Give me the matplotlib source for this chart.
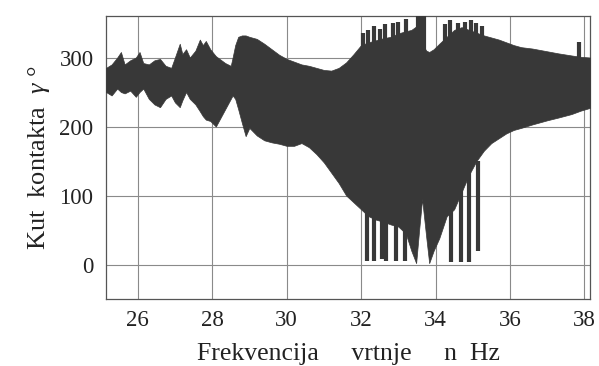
import matplotlib
matplotlib.use('Agg')
import matplotlib.pyplot as plt

plt.rcParams['font.family'] = ['Liberation Serif', 'DejaVu Serif']
plt.rcParams['mathtext.fontset'] = 'custom'
plt.rcParams['mathtext.it'] = 'Liberation Serif:italic'
plt.rcParams['mathtext.rm'] = 'Liberation Serif'

# ovojnica signala (ocitano sa slike)
freq = [25.15, 25.3, 25.45, 25.55, 25.65, 25.8, 25.95, 26.05, 26.15, 26.3,
        26.45, 26.6, 26.75, 26.9, 27.0, 27.13, 27.2, 27.3, 27.4, 27.55,
        27.67, 27.75, 27.83, 27.95, 28.1, 28.2, 28.35, 28.5, 28.55, 28.62,
        28.7, 28.8, 28.9, 29.0, 29.2, 29.4, 29.6, 29.8, 30.0, 30.2,
        30.4, 30.6, 30.8, 31.0, 31.2, 31.4, 31.6, 31.8, 32.0, 32.2,
        32.4, 32.6, 32.8, 33.0, 33.2, 33.35, 33.48, 33.56, 33.64, 33.75,
        33.83, 33.95, 34.1, 34.3, 34.5, 34.7, 34.9, 35.1, 35.3, 35.5,
        35.7, 35.9, 36.1, 36.3, 36.6, 37.0, 37.3, 37.65, 37.9, 38.15]
gornja = [285, 290, 300, 308, 290, 296, 300, 308, 292, 290,
          296, 298, 288, 285, 300, 320, 305, 312, 300, 310,
          326, 318, 324, 312, 302, 298, 292, 288, 300, 318,
          330, 332, 332, 330, 327, 320, 312, 304, 298, 294,
          290, 288, 285, 282, 281, 285, 293, 305, 318, 322,
          325, 328, 330, 335, 338, 340, 345, 345, 320, 310,
          308, 312, 320, 330, 340, 344, 340, 336, 332, 329,
          326, 322, 318, 315, 313, 309, 306, 303, 301, 300]
donja = [250, 245, 255, 250, 248, 252, 243, 250, 255, 240,
         232, 228, 240, 245, 235, 228, 238, 250, 240, 232,
         222, 215, 210, 208, 200, 210, 225, 240, 245, 240,
         225, 205, 186, 198, 187, 180, 177, 175, 172, 172,
         176, 170, 160, 148, 133, 118, 100, 90, 80, 70,
         65, 62, 58, 55, 45, 20, 2, 50, 95, 40,
         2, 20, 38, 70, 80, 105, 130, 150, 165, 176,
         183, 190, 195, 198, 203, 209, 213, 218, 223, 227]

# siljci prema gore i prema dolje
siljci_gore_f = [32.05, 32.2, 32.35, 32.5, 32.65, 32.85, 33.0, 33.2, 33.52, 33.6, 33.7,
                 34.25, 34.4, 34.6, 34.8, 34.95, 35.1, 35.25, 37.85]
siljci_gore = [335, 340, 345, 342, 348, 350, 352, 356, 370, 370, 370,
               348, 355, 350, 352, 355, 350, 345, 322]
siljci_dolje_f = [32.17, 32.36, 32.55, 32.68, 32.95, 33.19, 34.42, 34.69, 34.9, 35.14]
siljci_dolje = [5, 5, 8, 5, 5, 5, 3, 3, 3, 19]

boja = '#383838'

fig = plt.figure(figsize=(5.99, 3.66), dpi=100)
ax = fig.add_axes([0.177, 0.183, 0.808, 0.773])

ax.fill_between(freq, donja, gornja, color=boja, lw=0.5, zorder=3)
ax.vlines(siljci_gore_f, 250, siljci_gore, color=boja, lw=3, zorder=3)
ax.vlines(siljci_dolje_f, siljci_dolje, 150, color=boja, lw=3, zorder=3)

ax.set_xlim(25.15, 38.15)
ax.set_ylim(-50, 360)
ax.set_xticks(range(26, 39, 2))
ax.set_yticks([0, 100, 200, 300])
ax.grid(True, color='#8a8a8a', lw=0.8, zorder=1)
ax.tick_params(length=0, labelsize=16.5, colors='#222222')
ax.tick_params(axis='y', pad=9)
ax.tick_params(axis='x', pad=8)
for s in ax.spines.values():
    s.set_color('#555555')
    s.set_linewidth(0.9)

ax.set_xlabel('Frekvencija     vrtnje     n  Hz', fontsize=18.5, color='#222222')
ax.xaxis.set_label_coords(0.5, -0.155)
ax.set_ylabel(r'Kut  kontakta  $\gamma$ °', fontsize=19, color='#222222', labelpad=5)

fig.savefig('out.png', dpi=100)
